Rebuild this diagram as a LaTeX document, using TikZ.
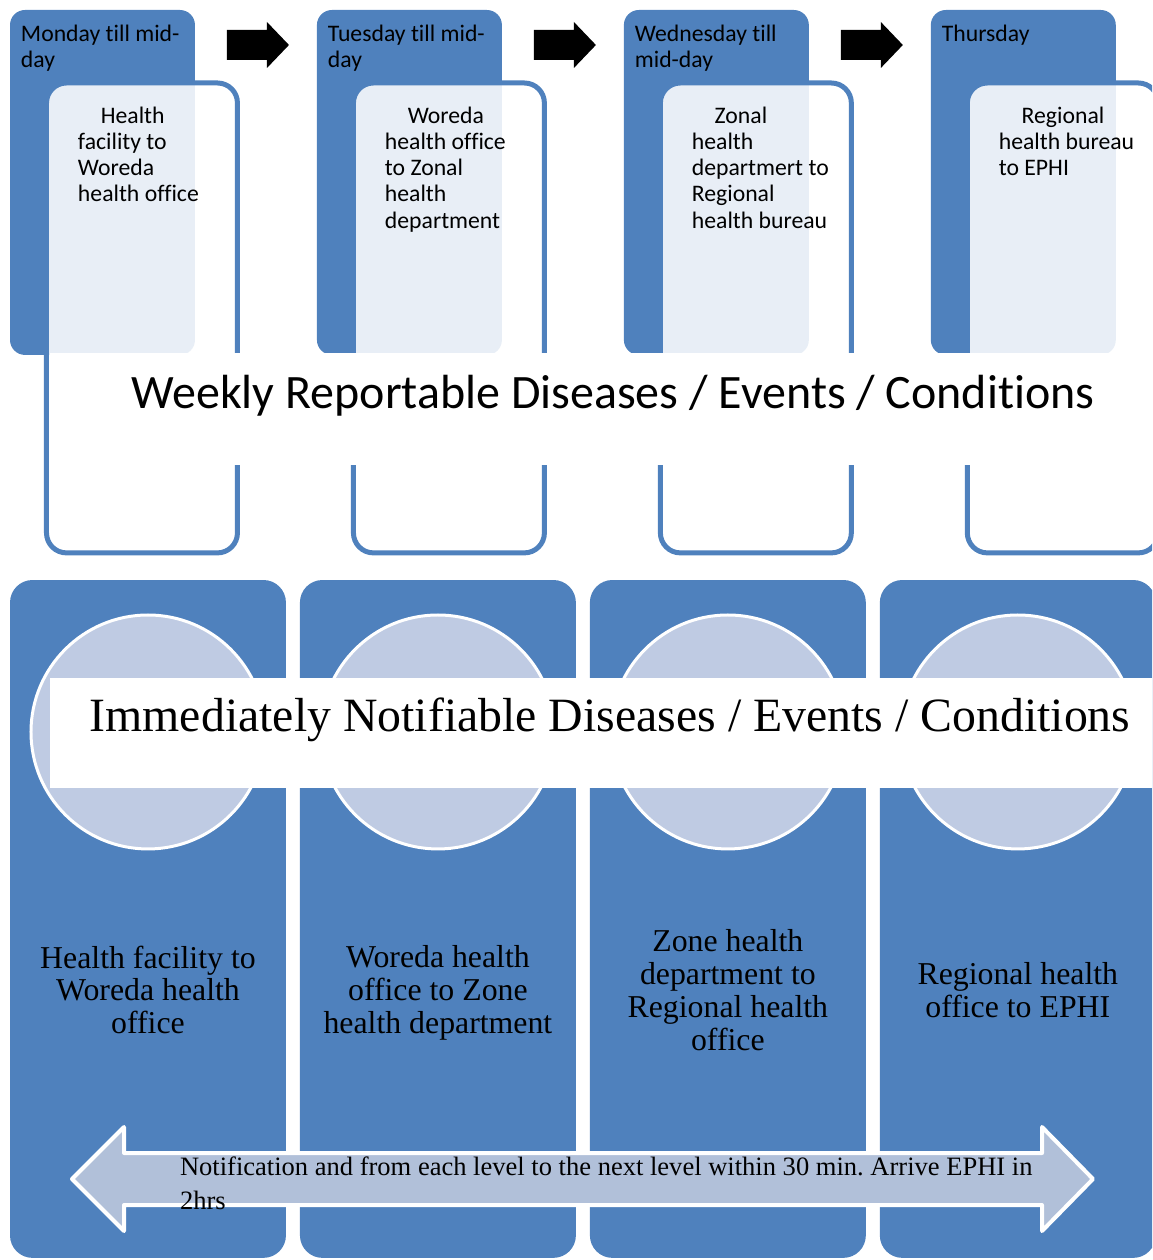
\documentclass[tikz,border=0pt]{standalone}
\usepackage{fontspec}
\setmainfont{Liberation Serif}
\newfontfamily\calibri[Ligatures=NoCommon]{Carlito}
\usepackage{tikz}
\usetikzlibrary{positioning}
\definecolor{tabblue}{HTML}{4F81BD}
\definecolor{discfill}{HTML}{BFCBE3}
\definecolor{arrowfill}{HTML}{B1C0D9}
\frenchspacing

\begin{document}
\begin{tikzpicture}[
  x=0.02cm,y=-0.02cm,
  every node/.style={inner sep=0pt,outer sep=0pt},
  daytab/.style={fill=tabblue,rounded corners=0.3cm,
    minimum width=3.7cm,minimum height=6.9cm},
  routebox/.style={draw=tabblue,line width=0.1cm,fill=white,fill opacity=0.87,
    rounded corners=0.4cm,minimum width=3.82cm,minimum height=9.4cm},
  daytext/.style={font=\calibri\fontsize{13.5}{14.9}\selectfont,align=left},
  band/.style={fill=white,minimum width=22.04cm},
  weektitle/.style={font=\calibri\fontsize{27.3}{30}\selectfont},
  level/.style={fill=tabblue,rounded corners=0.45cm,
    minimum width=5.52cm,minimum height=13.56cm},
  disc/.style={circle,draw=white,line width=0.06cm,fill=discfill,minimum size=4.68cm},
  nowtitle/.style={font=\fontsize{27.2}{30}\selectfont},
  leveltext/.style={font=\fontsize{18.1}{18.7}\selectfont,align=center},
  notetext/.style={font=\fontsize{15.1}{19.3}\selectfont,align=left},
  flowarrow/.style={fill=black},
  dblarrow/.style={fill=arrowfill,draw=white,line width=0.08cm,line join=round}
]
  \useasboundingbox (0,0) rectangle (1152,1260);
  \clip (0,0) rectangle (1152,1260);

  \node[daytab,anchor=north west] (tab1) at (10,10) {};
  \node[daytab,right=2.44cm of tab1] (tab2) {};
  \node[daytab,right=2.44cm of tab2] (tab3) {};
  \node[daytab,right=2.44cm of tab3] (tab4) {};

  \node[daytext,below right=0.3cm and 0.22cm of tab1.north west] (day1) {Monday till mid-\\day};
  \node[daytext,below right=0.3cm and 0.22cm of tab2.north west] (day2) {Tuesday till mid-\\day};
  \node[daytext,below right=0.3cm and 0.22cm of tab3.north west] (day3) {Wednesday till\\mid-day};
  \node[daytext,below right=0.3cm and 0.22cm of tab4.north west] (day4) {Thursday};

  \node[routebox,below right=1.46cm and 0.73cm of tab1.north west] (box1) {};
  \node[routebox,below right=1.46cm and 0.73cm of tab2.north west] (box2) {};
  \node[routebox,below right=1.46cm and 0.73cm of tab3.north west] (box3) {};
  \node[routebox,below right=1.46cm and 0.73cm of tab4.north west] (box4) {};

  \node[daytext,below right=0.48cm and 0.63cm of box1.north west] (route1)
    {\hspace*{13pt}Health\\facility to\\Woreda\\health office};
  \node[daytext,below right=0.48cm and 0.63cm of box2.north west] (route2)
    {\hspace*{13pt}Woreda\\health office\\to Zonal\\health\\department};
  \node[daytext,below right=0.48cm and 0.63cm of box3.north west] (route3)
    {\hspace*{13pt}Zonal\\health\\departmert to\\Regional\\health bureau};
  \node[daytext,below right=0.48cm and 0.63cm of box4.north west] (route4)
    {\hspace*{13pt}Regional\\health bureau\\to EPHI};

  \fill[flowarrow] (tab1.north east) ++(32,20) -- ++(40,0) -- ++(0,-8) -- ++(22,23)
    -- ++(-22,23) -- ++(0,-8) -- ++(-40,0) -- cycle;
  \fill[flowarrow] (tab2.north east) ++(32,20) -- ++(40,0) -- ++(0,-8) -- ++(22,23)
    -- ++(-22,23) -- ++(0,-8) -- ++(-40,0) -- cycle;
  \fill[flowarrow] (tab3.north east) ++(32,20) -- ++(40,0) -- ++(0,-8) -- ++(22,23)
    -- ++(-22,23) -- ++(0,-8) -- ++(-40,0) -- cycle;

  \node[band,minimum height=2.24cm,anchor=north west] (weekband) at (50,353) {};
  \node[weektitle] (week) at (613,396) {Weekly Reportable Diseases / Events / Conditions};

  \node[level,anchor=north west] (col1) at (10,580) {};
  \node[level,right=0.28cm of col1] (col2) {};
  \node[level,right=0.28cm of col2] (col3) {};
  \node[level,right=0.28cm of col3] (col4) {};

  \node[disc,below=0.7cm of col1.north] (disc1) {};
  \node[disc,below=0.7cm of col2.north] (disc2) {};
  \node[disc,below=0.7cm of col3.north] (disc3) {};
  \node[disc,below=0.7cm of col4.north] (disc4) {};

  \node[band,minimum height=2.2cm,anchor=north west] (nowband) at (50,678) {};
  \node[nowtitle] (now) at (610,720) {Immediately Notifiable Diseases / Events / Conditions};

  \node[leveltext] (lvl1) at ([yshift=-1.42cm]col1.center) {Health facility to\\Woreda health\\office};
  \node[leveltext] (lvl2) at ([yshift=-1.48cm]col2.center) {Woreda health\\office to Zone\\health department};
  \node[leveltext] (lvl3) at ([yshift=-1.42cm]col3.center) {Zone health\\department to\\Regional health\\office};
  \node[leveltext] (lvl4) at ([yshift=-1.42cm]col4.center) {Regional health\\office to EPHI};

  \coordinate (ltip) at (72,1179);
  \coordinate (rtip) at (1093,1179);
  \draw[dblarrow] (ltip) -- ++(52,-52) -- ++(0,26) -- ++(918,0) -- ++(0,-26) -- (rtip)
    -- ++(-51,52) -- ++(0,-26) -- ++(-918,0) -- ++(0,26) -- cycle;
  \node[notetext,anchor=north west] (note) at (180,1157)
    {Notification and from each level to the next level within 30 min. Arrive EPHI in\\2hrs};
\end{tikzpicture}
\end{document}
